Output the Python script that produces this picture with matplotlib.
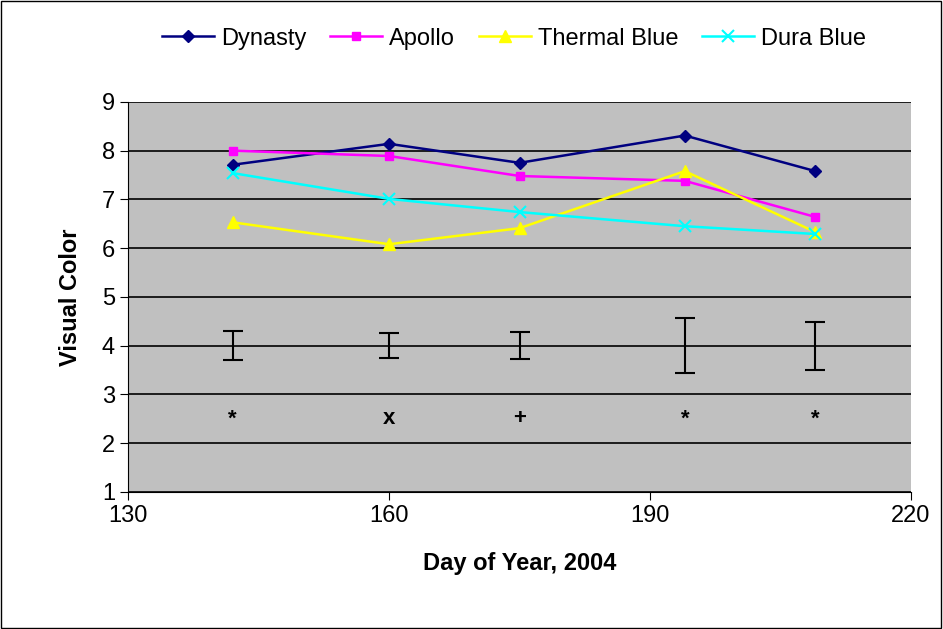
import matplotlib.pyplot as plt
import numpy as np

plt.rcParams['font.family'] = ['Liberation Sans', 'DejaVu Sans']

days = [142, 160, 175, 194, 209]
dynasty = [7.71, 8.14, 7.75, 8.31, 7.58]
apollo = [8.0, 7.89, 7.48, 7.38, 6.64]
thermal = [6.53, 6.08, 6.41, 7.58, 6.33]
dura = [7.54, 7.01, 6.74, 6.45, 6.29]
err_center = [4.0, 4.0, 4.0, 4.0, 4.0]
err_low = [0.30, 0.26, 0.28, 0.57, 0.49]
err_high = [0.30, 0.26, 0.28, 0.57, 0.49]
sig_marks = ['*', 'x', '+', '*', '*']
sig_y = 2.5

fig = plt.figure(figsize=(9.43, 6.29), dpi=100)
fig.patches.append(plt.Rectangle((0.001, 0.001), 0.997, 0.997, transform=fig.transFigure,
                                 fill=False, edgecolor='black', linewidth=1))
ax = fig.add_axes([0.136, 0.218, 0.83, 0.62])
ax.set_facecolor('#C0C0C0')

ax.plot(days, dynasty, color='#000080', marker='D', markersize=6, lw=1.8, label='Dynasty')
ax.plot(days, apollo, color='#FF00FF', marker='s', markersize=6, lw=1.8, label='Apollo')
ax.plot(days, thermal, color='#FFFF00', marker='^', markersize=8, lw=1.8, label='Thermal Blue')
ax.plot(days, dura, color='#00FFFF', marker='x', markersize=8, mew=1.5, lw=1.8, label='Dura Blue')
ax.errorbar(days, err_center, yerr=[err_low, err_high], fmt='none', ecolor='black',
            capsize=7, elinewidth=1.5, capthick=1.5)
for d, m in zip(days, sig_marks):
    ax.text(d, sig_y, m, ha='center', va='center', fontsize=16, fontweight='bold')

ax.set_xlim(130, 220)
ax.set_ylim(1, 9)
ax.set_xticks([130, 160, 190, 220])
ax.set_yticks(range(1, 10))
ax.yaxis.grid(True, color='black', linewidth=1.2)
ax.tick_params(labelsize=17, direction='out', length=6)
for s in ['top', 'right']:
    ax.spines[s].set_visible(False)
ax.set_xlabel('Day of Year, 2004', fontsize=17, fontweight='bold', labelpad=18)
ax.set_ylabel('Visual Color', fontsize=17, fontweight='bold', labelpad=14)
fig.legend(loc='upper center', bbox_to_anchor=(0.545, 0.99), ncol=4, frameon=False,
           fontsize=17, handlelength=2.2, handletextpad=0.3, columnspacing=1.0)
fig.savefig('out.png', dpi=100)
